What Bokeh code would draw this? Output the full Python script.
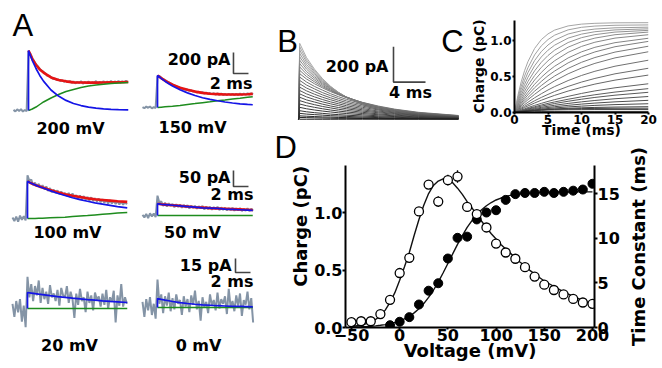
from math import pi
from bokeh.plotting import figure
from bokeh.layouts import row, column
from bokeh.models import (Range1d, LinearAxis, FixedTicker, Label, GridBox,
                          CustomJSTickFormatter, PrintfTickFormatter)
from bokeh.embed import file_html
from bokeh.resources import INLINE

# ======================= DATA =======================
# ---- Panel A: example currents (time in ms, current in pA) ----
GREY_T_L = [-2 + 0.25 * i for i in range(62)]   # sampling times, left column
GREY_T_R = [-2 + 0.25 * i for i in range(60)]   # sampling times, right column
FIT_T_L = [0, 0, 0.5, 1, 1.5, 2, 3, 4, 5, 6, 7, 8, 9, 10, 11, 12, 13.3]
FIT_T_R = [0, 0, 0.5, 1, 1.5, 2, 3, 4, 5, 6, 7, 8, 9, 10, 11, 12, 12.7]

GREY_200 = [6, -9, 11, -4, 13, -10, 5, -7,
            560, 540, 500, 468, 440, 420, 395, 380,
            368, 352, 330, 330, 318, 300, 305, 290,
            295, 280, 288, 272, 283, 268, 280, 262,
            275, 258, 272, 262, 278, 255, 270, 260,
            276, 258, 268, 262, 280, 256, 272, 263,
            278, 260, 275, 262, 282, 262, 276, 265,
            280, 265, 276, 268, 282, 270]
BLUE_200 = [0, 570, 477, 399, 333, 279, 195, 137, 96, 67, 47, 32, 23, 16, 11, 8, 5]
GREEN_200 = [0, 0, 14, 33, 57, 81, 119, 152, 181, 200, 219, 233, 242, 250, 257, 261, 266]
RED_200 = [570, 570, 491, 432, 390, 360, 314, 289, 277, 267, 266, 265, 265, 266, 268, 269, 271]

GREY_150 = [4, -7, 9, -3, 10, -8, 3, -5,
            295, 300, 282, 270, 262, 248, 240, 228,
            220, 210, 202, 192, 190, 178, 176, 168,
            170, 158, 162, 150, 155, 142, 150, 138,
            146, 132, 142, 128, 138, 126, 136, 122,
            134, 120, 132, 118, 130, 117, 131, 119,
            130, 116, 131, 118, 132, 119, 133, 121,
            134, 122, 135, 124]
BLUE_150 = [0, 304, 276, 250, 226, 205, 168, 139, 114, 93, 77, 64, 52, 43, 35, 29, 26]
GREEN_150 = [0, 0, 3, 6, 9, 12, 20, 29, 37, 46, 54, 63, 71, 80, 88, 97, 103]
RED_150 = [304, 304, 279, 256, 235, 217, 188, 168, 151, 139, 131, 127, 123, 123, 123, 126, 129]

GREY_100 = [3, -8, 6, -10, 9, -4, 7, -6,
            135, 118, 122, 104, 112, 100, 108, 96,
            104, 92, 100, 86, 95, 82, 90, 80,
            88, 76, 84, 74, 80, 70, 80, 66,
            78, 66, 73, 62, 72, 60, 70, 59,
            67, 56, 66, 55, 63, 53, 62, 51,
            60, 49, 59, 47, 57, 47, 56, 45,
            55, 44, 53, 43, 52, 44]
BLUE_100 = [0, 116, 110, 105, 100, 96, 87, 79, 72, 65, 59, 54, 49, 45, 41, 37, 33]
GREEN_100 = [0, 0, 0, 0, 1, 1, 2, 3, 4, 6, 8, 9, 11, 13, 15, 17, 19]
RED_100 = [116, 116, 110, 105, 101, 97, 89, 82, 76, 71, 67, 63, 60, 58, 56, 54, 52]

GREY_50 = [2, -6, 5, -8, 7, -3, 6, -5,
           62, 40, 44, 30, 40, 28, 38, 30,
           36, 26, 35, 27, 34, 24, 33, 25,
           32, 22, 31, 24, 30, 21, 29, 22,
           30, 19, 28, 20, 27, 18, 26, 20,
           27, 17, 25, 18, 24, 16, 23, 17,
           24, 15, 22, 16, 23, 14, 21, 15,
           22, 14, 21, 15]
BLUE_50 = [0, 37, 35, 34, 33, 32, 30, 28, 26, 24, 23, 22, 20, 19, 18, 17, 16]
GREEN_50 = [0, 0, 0, 0, 0, 0, 0, 0, 0, 0, 0, 0, 0, 0, 0, 0, 0]
RED_50 = [37, 37, 35, 34, 33, 32, 30, 28, 26, 25, 23, 22, 21, 20, 19, 18, 17]

GREY_20 = [5, -9, 8, -4, 10, -14, 3, -20,
           34, 12, 26, 8, 24, 14, 30, 6,
           22, 10, 18, 5, 25, 12, 16, 8,
           20, 3, 22, 14, 12, 24, 6, 18,
           10, -10, 16, 4, 21, 8, 12, -4,
           18, 6, 14, -2, 17, 9, 13, 2,
           16, 4, 20, 0, 12, 7, 19, -15,
           14, 3, 26, 2, 12, 5]
BLUE_20 = [0, 17.1, 16.5, 15.9, 15.3, 14.8, 13.7, 12.7, 11.9, 11.0, 10.3, 9.5, 8.9, 8.2, 7.6, 7.1, 6.4]
GREEN_20 = [0, 0, 0, 0, 0, 0, 0, 0, 0, 0, 0, 0, 0, 0, 0, 0, 0]

GREY_0 = [6, -10, 9, -3, 11, -8, 4, -12,
          30, 4, 14, -6, 12, 2, 16, -4,
          10, -2, 14, 4, 8, -8, 12, 1,
          9, -5, 13, 3, 18, -2, 7, -14,
          11, 0, 6, -6, 14, 2, 8, -3,
          16, -1, 9, 4, 12, -7, 20, 0,
          7, -4, 13, 2, 15, -9, 8, 3,
          17, -2, 10, -16]
BLUE_0 = [0, 9.6, 8.7, 7.9, 7.2, 6.4, 5.2, 4.3, 3.5, 2.9, 2.4, 1.9, 1.6, 1.3, 1.1, 0.9, 0.7]
GREEN_0 = [0, 0, 0, 0, 0, 0, 0, 0, 0, 0, 0, 0, 0, 0, 0, 0, 0]

A_LABELS = ["200 mV", "150 mV", "100 mV", "50 mV", "20 mV", "0 mV"]
SCALE_I = [200, 50, 15]      # pA scale bars per row
SCALE_T = 2                  # ms

# ---- Panel B: gating currents (ms, pA) ----
B_T = [0, 0.15, 1, 2, 3, 4, 5, 6, 8, 10, 12, 15, 20]
B_TRACES = [
    [0, 428, 348, 282, 229, 186, 151, 123, 81, 53, 35, 19, 7],
    [0, 409, 335, 274, 225, 184, 151, 123, 83, 55, 37, 20, 7],
    [0, 390, 323, 266, 220, 182, 151, 124, 85, 58, 40, 22, 9],
    [0, 371, 309, 258, 215, 179, 150, 125, 87, 60, 42, 24, 10],
    [0, 352, 296, 249, 210, 177, 149, 125, 89, 63, 44, 26, 11],
    [0, 333, 283, 240, 204, 173, 147, 125, 90, 65, 47, 29, 13],
    [0, 314, 269, 231, 198, 170, 145, 125, 92, 67, 50, 31, 14],
    [0, 295, 255, 221, 191, 165, 143, 124, 93, 69, 52, 34, 16],
    [0, 276, 241, 211, 184, 161, 140, 123, 94, 71, 55, 36, 18],
    [0, 257, 227, 200, 177, 156, 138, 121, 95, 74, 57, 39, 21],
    [0, 238, 210, 185, 164, 144, 127, 112, 88, 68, 53, 36, 20],
    [0, 219, 193, 171, 150, 133, 117, 103, 81, 63, 49, 34, 18],
    [0, 200, 176, 156, 137, 121, 107, 94, 74, 57, 45, 31, 16],
    [0, 181, 160, 141, 124, 110, 97, 85, 67, 52, 40, 28, 15],
    [0, 162, 143, 126, 111, 98, 87, 76, 60, 46, 36, 25, 13],
    [0, 143, 126, 111, 98, 87, 77, 67, 53, 41, 32, 22, 12],
    [0, 124, 109, 97, 85, 75, 66, 59, 46, 36, 28, 19, 10],
    [0, 105, 93, 82, 72, 64, 56, 50, 39, 30, 23, 16, 9],
    [0, 86, 76, 67, 59, 52, 46, 41, 32, 25, 19, 13, 7],
    [0, 67, 59, 52, 46, 41, 36, 32, 25, 19, 15, 10, 5],
    [0, 48, 42, 37, 33, 29, 26, 23, 18, 14, 11, 7, 4],
    [0, 33, 29, 26, 23, 20, 18, 16, 12, 9, 7, 5, 3],
    [0, 19, 17, 15, 13, 12, 10, 9, 7, 5, 4, 3, 2],
    [0, 10, 9, 8, 7, 6, 5, 5, 4, 3, 2, 2, 1],
    [0, 0, 0, 0, 0, 0, 0, 0, 0, 0, 0, 0, 0],
]
B_SCALE_I = 200   # pA
B_SCALE_T = 4     # ms

# ---- Panel C: charge (ms, pC) ----
C_T = [0, 0.5, 1, 1.5, 2, 3, 4, 5, 6, 8, 10, 12, 15, 20]
C_TRACES = [
    [0, 0.233, 0.423, 0.577, 0.701, 0.884, 1.006, 1.085, 1.138, 1.195, 1.220, 1.231, 1.238, 1.240],
    [0, 0.198, 0.363, 0.502, 0.617, 0.795, 0.920, 1.007, 1.068, 1.141, 1.176, 1.193, 1.204, 1.209],
    [0, 0.171, 0.316, 0.441, 0.549, 0.717, 0.841, 0.932, 0.999, 1.083, 1.128, 1.152, 1.169, 1.178],
    [0, 0.146, 0.275, 0.386, 0.485, 0.645, 0.767, 0.860, 0.930, 1.027, 1.082, 1.115, 1.140, 1.155],
    [0, 0.126, 0.238, 0.338, 0.426, 0.575, 0.693, 0.787, 0.861, 0.966, 1.033, 1.075, 1.110, 1.134],
    [0, 0.107, 0.205, 0.293, 0.373, 0.510, 0.623, 0.714, 0.790, 0.902, 0.977, 1.027, 1.074, 1.110],
    [0, 0.092, 0.175, 0.253, 0.324, 0.448, 0.553, 0.642, 0.715, 0.830, 0.912, 0.970, 1.027, 1.074],
    [0, 0.078, 0.150, 0.217, 0.279, 0.390, 0.486, 0.568, 0.639, 0.753, 0.837, 0.900, 0.964, 1.025],
    [0, 0.067, 0.129, 0.188, 0.243, 0.342, 0.429, 0.507, 0.573, 0.685, 0.771, 0.836, 0.908, 0.982],
    [0, 0.056, 0.110, 0.160, 0.207, 0.295, 0.372, 0.442, 0.504, 0.609, 0.693, 0.759, 0.834, 0.915],
    [0, 0.048, 0.092, 0.135, 0.176, 0.251, 0.320, 0.381, 0.437, 0.534, 0.613, 0.678, 0.754, 0.839],
    [0, 0.037, 0.074, 0.108, 0.141, 0.203, 0.259, 0.311, 0.358, 0.441, 0.511, 0.569, 0.639, 0.722],
    [0, 0.030, 0.059, 0.085, 0.112, 0.162, 0.208, 0.250, 0.290, 0.360, 0.420, 0.470, 0.534, 0.611],
    [0, 0.024, 0.047, 0.069, 0.090, 0.131, 0.169, 0.204, 0.237, 0.296, 0.347, 0.392, 0.447, 0.517],
    [0, 0.018, 0.035, 0.051, 0.068, 0.098, 0.126, 0.153, 0.178, 0.223, 0.263, 0.298, 0.341, 0.397],
    [0, 0.015, 0.028, 0.042, 0.055, 0.080, 0.103, 0.126, 0.146, 0.183, 0.216, 0.245, 0.282, 0.330],
    [0, 0.012, 0.024, 0.035, 0.047, 0.068, 0.087, 0.106, 0.124, 0.155, 0.183, 0.208, 0.239, 0.279],
    [0, 0.010, 0.020, 0.029, 0.038, 0.055, 0.071, 0.086, 0.100, 0.125, 0.147, 0.166, 0.190, 0.221],
    [0, 0.008, 0.016, 0.024, 0.031, 0.045, 0.058, 0.069, 0.080, 0.099, 0.116, 0.130, 0.147, 0.168],
    [0, 0.007, 0.013, 0.019, 0.025, 0.036, 0.046, 0.055, 0.063, 0.077, 0.088, 0.098, 0.109, 0.121],
    [0, 0.006, 0.011, 0.016, 0.021, 0.030, 0.037, 0.043, 0.049, 0.058, 0.065, 0.070, 0.075, 0.080],
    [0, 0.006, 0.012, 0.017, 0.022, 0.029, 0.035, 0.040, 0.044, 0.050, 0.054, 0.056, 0.058, 0.059],
    [0, 0.007, 0.013, 0.018, 0.022, 0.028, 0.032, 0.035, 0.036, 0.038, 0.039, 0.040, 0.040, 0.040],
    [0, 0.003, 0.005, 0.006, 0.007, 0.009, 0.010, 0.010, 0.010, 0.010, 0.010, 0.010, 0.010, 0.010],
]
C_XTICKS = [0, 5, 10, 15, 20]
C_YTICKS = [0.0, 0.5, 1.0]

# ---- Panel D: Q-V (filled) and tau-V (open) ----
D_V_Q = [-10, 0, 10, 20, 30, 40, 50, 60, 70, 80, 90, 100, 110, 120, 130, 140, 150, 160, 170, 180, 190, 200]
D_Q = [0.02, 0.05, 0.09, 0.20, 0.32, 0.385, 0.60, 0.78, 0.79, 0.94, 1.00, 1.02, 1.11, 1.16, 1.17,
       1.17, 1.18, 1.17, 1.18, 1.19, 1.20, 1.25]
D_V_TAU = [-50, -40, -30, -20, -10, 0, 10, 20, 30, 40, 50, 60, 70, 80, 90, 100, 110, 120, 130,
           140, 150, 160, 170, 180, 190, 200]
D_TAU = [0.6, 0.7, 0.7, 1.5, 3.1, 6.1, 7.8, 13.0, 16.0, 14.1, 16.5, 16.9, 13.5, 12.7, 11.2, 9.4,
         8.4, 7.7, 6.75, 5.7, 4.8, 4.2, 3.7, 3.2, 2.8, 2.65]
D_TAU_ERR = [0.5, 0.2, 0.2, 0.2, 0.2, 0.3, 0.3, 0.3, 0.3, 0.6, 0.6, 0.7, 0.3, 0.3, 0.2, 0.2,
             0.2, 0.2, 0.2, 0.2, 0.2, 0.2, 0.2, 0.2, 0.2, 0.2]
FIT_V = [-50, -45, -40, -35, -30, -25, -20, -15, -10, -5, 0, 5, 10, 15, 20, 25, 30, 35, 40, 45,
         50, 55, 60, 65, 70, 75, 80, 85, 90, 95, 100, 105, 110, 115, 120, 125, 130, 135, 140,
         145, 150, 155, 160, 165, 170, 175, 180, 185, 190, 195, 200]
FIT_Q = [0.004, 0.005, 0.006, 0.008, 0.011, 0.014, 0.019, 0.025, 0.033, 0.044, 0.058, 0.075,
         0.098, 0.127, 0.163, 0.208, 0.262, 0.324, 0.395, 0.474, 0.557, 0.640, 0.723, 0.800,
         0.870, 0.930, 0.982, 1.024, 1.059, 1.087, 1.109, 1.126, 1.139, 1.149, 1.156, 1.162,
         1.166, 1.169, 1.172, 1.174, 1.176, 1.177, 1.178, 1.178, 1.179, 1.179, 1.179, 1.180,
         1.180, 1.180, 1.180]
FIT_TAU = [0.15, 0.2, 0.3, 0.42, 0.6, 0.9, 1.3, 1.95, 2.8, 3.9, 5.3, 6.8, 8.4, 10.3, 12.1, 13.7,
           15.0, 15.9, 16.4, 16.65, 16.6, 16.2, 15.6, 14.9, 14.1, 13.4, 12.6, 11.9, 11.2, 10.5,
           9.9, 9.3, 8.8, 8.3, 7.8, 7.3, 6.9, 6.4, 6.0, 5.6, 5.2, 4.9, 4.6, 4.3, 4.0, 3.75, 3.5,
           3.25, 3.0, 2.8, 2.6]
D_XTICKS = [-50, 0, 50, 100, 150, 200]
D_YTICKS_L = [0.0, 0.5, 1.0]
D_YTICKS_R = [0, 5, 10, 15]

# ======================= STYLE / LAYOUT =======================
FONT = "DejaVu Sans"
LETTER_FONT = "Liberation Sans"
GREY = "#8494a6"
BLUE = "#1414e6"
RED = "#e61414"
GREEN = "#1e8c1e"
A_PX_PER_MS = 7.5


def bare(w, h, xr, yr):
    p = figure(width=w, height=h, x_range=Range1d(*xr), y_range=Range1d(*yr),
               output_backend="svg", toolbar_location=None,
               x_axis_location=None, y_axis_location=None, min_border=0)
    p.xgrid.visible = False
    p.ygrid.visible = False
    p.outline_line_color = None
    return p


def txt(p, x, y, s, size="16px", align="center", font=FONT, style="bold", angle=0.0):
    p.add_layout(Label(x=x, y=y, text=s, text_font=font, text_font_size=size,
                       text_font_style=style, text_align=align, text_baseline="middle",
                       angle=angle, text_color="black"))


def letter(p, x, y, s):
    txt(p, x, y, s, size="31px", align="left", font=LETTER_FONT, style="normal")


def a_panel(w, h, onset_px, base_px, pa_per_px, gt, grey, ft, blue, green, red=None):
    t0 = -onset_px / A_PX_PER_MS
    p = bare(w, h, (t0, t0 + w / A_PX_PER_MS),
             (-(h - base_px) * pa_per_px, base_px * pa_per_px))
    p.line(gt, grey, line_color=GREY, line_width=2)
    if red is not None:
        p.line(ft, red, line_color=RED, line_width=2.6)
    p.line(ft, green, line_color=GREEN, line_width=1.5)
    p.line(ft, blue, line_color=BLUE, line_width=1.7)
    return p


def scale_bar(p, t, i0, di, dt):
    p.line([t, t, t + dt], [i0 + di, i0, i0], line_color="#444444", line_width=1.6)


# Row 1
r1 = 9.5
a1 = a_panel(135, 150, 28, 110, r1, GREY_T_L, GREY_200, FIT_T_L, BLUE_200, GREEN_200, RED_200)
a2 = a_panel(135, 150, 22, 107, r1, GREY_T_R, GREY_150, FIT_T_R, BLUE_150, GREEN_150, RED_150)
letter(a1, -2.13, 807, "A")
txt(a1, 5.6, -171, A_LABELS[0])
txt(a2, 4.67, -190, A_LABELS[1])
scale_bar(a2, 10.13, 323, SCALE_I[0], SCALE_T)
txt(a2, 9.73, 456, f"{SCALE_I[0]} pA", align="right")
txt(a2, 12.67, 228, f"{SCALE_T} ms", align="right")

# Row 2
r2 = 3.125
a3 = a_panel(135, 105, 27, 68, r2, GREY_T_L, GREY_100, FIT_T_L, BLUE_100, GREEN_100, RED_100)
a4 = a_panel(135, 105, 22, 65, r2, GREY_T_R, GREY_50, FIT_T_R, BLUE_50, GREEN_50, RED_50)
txt(a3, 5.33, -44, A_LABELS[2])
txt(a4, 4.67, -53, A_LABELS[3])
scale_bar(a4, 10.13, 90.6, SCALE_I[1], SCALE_T)
txt(a4, 9.73, 119, f"{SCALE_I[1]} pA", align="right")
txt(a4, 12.8, 66, f"{SCALE_T} ms", align="right")

# Row 3
r3 = 1.07
a5 = a_panel(135, 113, 27, 53, r3, GREY_T_L, GREY_20, FIT_T_L, BLUE_20, GREEN_20)
a6 = a_panel(135, 113, 22, 52, r3, GREY_T_R, GREY_0, FIT_T_R, BLUE_0, GREEN_0)
txt(a5, 5.6, -39.6, A_LABELS[4])
txt(a6, 5.47, -40.7, A_LABELS[5])
scale_bar(a6, 10.4, 37.5, SCALE_I[2], SCALE_T)
txt(a6, 9.87, 44.9, f"{SCALE_I[2]} pA", align="right")
txt(a6, 12.8, 27.8, f"{SCALE_T} ms", align="right")

# ---- Panel B ----
B_PX_PER_MS = 8.0
B_PA_PER_PX = 4.76
pB = bare(198, 128, (-28 / B_PX_PER_MS, -28 / B_PX_PER_MS + 198 / B_PX_PER_MS),
          (-(128 - 117) * B_PA_PER_PX, 117 * B_PA_PER_PX))
n = len(B_TRACES)
greys = []
for k in range(n):
    g = int(round(170 - k * (140 / (n - 1))))
    greys.append("#%02x%02x%02x" % (g, g, g))
pB.multi_line(xs=[B_T] * n, ys=B_TRACES, line_color=greys, line_width=1.0)
scale_bar(pB, 11.875, 209.4, B_SCALE_I, B_SCALE_T)
txt(pB, 11.25, 295, f"{B_SCALE_I} pA", align="right")
txt(pB, 14.0, 148, f"{B_SCALE_T} ms")
letter(pB, -2.65, 438, "B")
letter(pB, 17.85, 438, "C")


def style_axis(ax, size, tick_out=3, standoff=1):
    ax.axis_line_width = 2
    ax.axis_line_color = "black"
    ax.major_tick_line_width = 2
    ax.major_tick_line_color = "black"
    ax.major_tick_out = tick_out
    ax.major_tick_in = 0
    ax.minor_tick_line_color = None
    ax.major_label_standoff = standoff
    ax.major_label_text_font = FONT
    ax.major_label_text_font_style = "bold"
    ax.major_label_text_font_size = size
    ax.major_label_text_color = "black"


def style_label(ax, text, size, standoff):
    ax.axis_label = text
    ax.axis_label_text_font = FONT
    ax.axis_label_text_font_style = "bold"
    ax.axis_label_text_font_size = size
    ax.axis_label_text_color = "black"
    ax.axis_label_standoff = standoff


# ---- Panel C ----
pC = figure(width=194, height=140, x_range=Range1d(0, 20), y_range=Range1d(0, 1.27),
            output_backend="svg", toolbar_location=None,
            min_border_left=45, min_border_right=14, min_border_top=20, min_border_bottom=28)
pC.grid.visible = False
pC.outline_line_color = None
style_axis(pC.xaxis[0], "12px", tick_out=2, standoff=0)
style_axis(pC.yaxis[0], "12px", tick_out=2, standoff=1)
pC.xaxis.ticker = FixedTicker(ticks=C_XTICKS)
pC.yaxis.ticker = FixedTicker(ticks=C_YTICKS)
pC.yaxis.formatter = PrintfTickFormatter(format="%.1f")
style_label(pC.xaxis[0], "Time (ms)", "14px", -5)
style_label(pC.yaxis[0], "Charge (pC)", "14px", 0)
nc = len(C_TRACES)
cgreys = []
for k in range(nc):
    g = int(round(165 - k * (110 / (nc - 1))))
    cgreys.append("#%02x%02x%02x" % (g, g, g))
pC.multi_line(xs=[C_T] * nc, ys=C_TRACES, line_color=cgreys, line_width=1.0)

# ---- Panel D ----
stripL = bare(41, 240, (0, 41), (0, 240))
letter(stripL, 4, 217, "D")
txt(stripL, 30, 122, "Charge (pC)", size="18px", angle=pi / 2)

pD = figure(width=313, height=228, x_range=Range1d(-56.2, 202.1), y_range=Range1d(0, 1.409),
            output_backend="svg", toolbar_location=None,
            min_border_left=33, min_border_right=30, min_border_top=25, min_border_bottom=41)
pD.extra_y_ranges = {"tau": Range1d(0, 18.14)}
pD.add_layout(LinearAxis(y_range_name="tau"), "right")
pD.grid.visible = False
pD.outline_line_color = None
for ax in pD.xaxis:
    style_axis(ax, "16px", tick_out=2, standoff=-1)
for ax in pD.yaxis:
    style_axis(ax, "16px", tick_out=3, standoff=0)
pD.xaxis.ticker = FixedTicker(ticks=D_XTICKS)
pD.xaxis.formatter = CustomJSTickFormatter(
    code="return tick < 0 ? '\u2212' + Math.abs(tick) : String(tick);")
pD.yaxis[0].ticker = FixedTicker(ticks=D_YTICKS_L)
pD.yaxis[0].formatter = PrintfTickFormatter(format="%.1f")
pD.yaxis[1].ticker = FixedTicker(ticks=D_YTICKS_R)
style_label(pD.xaxis[0], "Voltage (mV)", "18px", -4)

pD.line(FIT_V, FIT_Q, line_color="#111111", line_width=1.4)
pD.line(FIT_V, FIT_TAU, line_color="#111111", line_width=1.4, y_range_name="tau")
lo = [t - e for t, e in zip(D_TAU, D_TAU_ERR)]
hi = [t + e for t, e in zip(D_TAU, D_TAU_ERR)]
pD.segment(D_V_TAU, lo, D_V_TAU, hi, line_color="black", line_width=1.3, y_range_name="tau")
pD.scatter(D_V_Q, D_Q, size=9, fill_color="black", line_color="black")
pD.scatter(D_V_TAU, D_TAU, size=9, fill_color="white", line_color="black", line_width=1.3,
           y_range_name="tau")

# right-hand axis title of panel D, drawn as a (tick-less) left axis label of a thin strip
stripR = figure(width=38, height=228, x_range=Range1d(0, 1), y_range=Range1d(0, 18.14),
                output_backend="svg", toolbar_location=None, x_axis_location=None,
                min_border_left=22, min_border_right=0, min_border_top=0, min_border_bottom=12)
stripR.grid.visible = False
stripR.outline_line_color = None
axR = stripR.yaxis[0]
axR.ticker = FixedTicker(ticks=[])
axR.axis_line_color = None
axR.major_tick_line_color = None
axR.minor_tick_line_color = None
axR.major_tick_out = 0
axR.major_tick_in = 0
axR.major_label_standoff = 0
style_label(axR, "Time Constant (ms)", "18px", 0)

right = GridBox(children=[(pB, 0, 0, 1, 2), (pC, 0, 2, 2, 2), (stripL, 1, 0, 2, 1),
                          (pD, 2, 1, 1, 2), (stripR, 2, 3, 1, 1)],
                rows=["128px", "12px", "228px"], cols=["41px", "157px", "156px", "38px"])

layout = row(column(row(a1, a2), row(a3, a4), row(a5, a6)), right)

open("out.html", "w").write(file_html(layout, INLINE))
